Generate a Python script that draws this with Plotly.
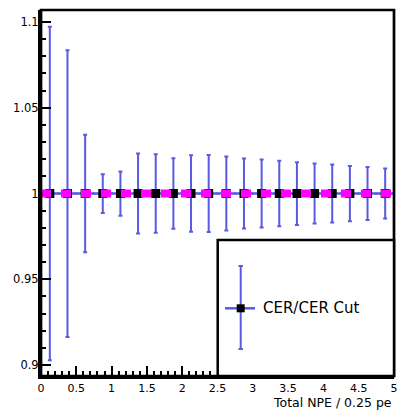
import plotly.graph_objects as go

# ---- data ----
bin_centers = [0.125, 0.375, 0.625, 0.875, 1.125, 1.375, 1.625, 1.875, 2.125, 2.375,
               2.625, 2.875, 3.125, 3.375, 3.625, 3.875, 4.125, 4.375, 4.625, 4.875]
ratio = [1.0] * 20
ratio_err = [0.0972, 0.0836, 0.0342, 0.0113, 0.0129, 0.0233, 0.0229, 0.0206, 0.0223, 0.0225,
             0.0216, 0.0204, 0.0198, 0.0191, 0.0183, 0.0175, 0.0169, 0.0161, 0.0155, 0.0146]
bin_half_width = [0.125] * 20
y_tick_vals = [0.9, 0.95, 1.0, 1.05, 1.1]
y_tick_text = ["0.9", "0.95", "1", "1.05", "1.1"]
x_tick_vals = [0, 0.5, 1, 1.5, 2, 2.5, 3, 3.5, 4, 4.5, 5]
x_tick_text = ["0", "0.5", "1", "1.5", "2", "2.5", "3", "3.5", "4", "4.5", "5"]
legend_label = "CER/CER Cut"
x_title = "Total NPE / 0.25 pe"
ref_level = 1.0

W, H = 397, 411
ML, MR, MT, MB = 41, 3, 10, 35
PW, PH = W - ML - MR, H - MT - MB
BLUE = "#5a5ae0"
FONT = "DejaVu Sans, Liberation Sans, Arial, sans-serif"


def px_x(p):
    return (p - ML) / PW


def px_y(p):
    return (H - MB - p) / PH


fig = go.Figure()
fig.add_trace(go.Scatter(
    x=bin_centers, y=ratio, mode="markers",
    marker=dict(symbol="square", size=9, color="black"),
    error_y=dict(type="data", array=ratio_err, visible=True, color=BLUE, thickness=2, width=2),
    error_x=dict(type="data", array=bin_half_width, visible=True, color=BLUE, thickness=2.5, width=1),
    showlegend=False,
))

shapes = []
# magenta dashed reference line
shapes.append(dict(type="line", xref="x", yref="y", x0=0, x1=5, y0=ref_level, y1=ref_level,
                   line=dict(color="#ff00ff", width=8, dash="10px,10px"), layer="above"))
# frame
shapes.append(dict(type="rect", xref="paper", yref="paper", x0=0, x1=1, y0=0, y1=1,
                   line=dict(color="black", width=2.7), layer="above"))
# legend box
shapes.append(dict(type="rect", xref="paper", yref="paper", x0=px_x(217.7), x1=1,
                   y0=0, y1=px_y(240), line=dict(color="black", width=2.5),
                   fillcolor="white", layer="above"))
# legend glyph
gx, gy = 240.7, 308.3
shapes.append(dict(type="line", xref="paper", yref="paper", x0=px_x(gx), x1=px_x(gx),
                   y0=px_y(266), y1=px_y(349), line=dict(color=BLUE, width=2), layer="above"))
for cy in (266, 349):
    shapes.append(dict(type="line", xref="paper", yref="paper", x0=px_x(gx - 2.2), x1=px_x(gx + 2.2),
                       y0=px_y(cy), y1=px_y(cy), line=dict(color=BLUE, width=2), layer="above"))
shapes.append(dict(type="line", xref="paper", yref="paper", x0=px_x(225), x1=px_x(255),
                   y0=px_y(gy), y1=px_y(gy), line=dict(color=BLUE, width=2.5), layer="above"))
shapes.append(dict(type="rect", xref="paper", yref="paper", x0=px_x(gx - 4), x1=px_x(gx + 4),
                   y0=px_y(gy - 4), y1=px_y(gy + 4), line=dict(width=0), fillcolor="black",
                   layer="above"))

annotations = [
    dict(text=legend_label, xref="paper", yref="paper", x=px_x(261), y=px_y(gy),
         xanchor="left", yanchor="middle", showarrow=False,
         font=dict(family=FONT, size=15, color="black")),
    dict(text=x_title, xref="paper", yref="paper", x=px_x(394), y=px_y(402.5),
         xanchor="right", yanchor="middle", showarrow=False,
         font=dict(family=FONT, size=12.5, color="black")),
]

fig.update_layout(
    width=W, height=H,
    margin=dict(l=ML, r=MR, t=MT, b=MB, pad=0, autoexpand=False),
    paper_bgcolor="white", plot_bgcolor="white",
    shapes=shapes, annotations=annotations,
    showlegend=False,
    xaxis=dict(range=[0, 5], tickmode="array", tickvals=x_tick_vals, ticktext=x_tick_text,
               ticks="inside", ticklen=10, tickwidth=2, tickcolor="black",
               ticklabeloverflow="allow", automargin=False,
               minor=dict(tickmode="linear", tick0=0, dtick=0.1, ticks="inside", ticklen=5,
                          tickwidth=2, tickcolor="black"),
               showgrid=False, zeroline=False, showline=True, linecolor="black", linewidth=3,
               tickfont=dict(family=FONT, size=11, color="black")),
    yaxis=dict(range=[0.8936, 1.107], tickmode="array", tickvals=y_tick_vals, ticktext=y_tick_text,
               ticks="inside", ticklen=10, tickwidth=2, tickcolor="black",
               ticklabelstandoff=-3, automargin=False,
               minor=dict(tickmode="linear", tick0=0.9, dtick=0.01, ticks="inside", ticklen=5,
                          tickwidth=2, tickcolor="black"),
               showgrid=False, zeroline=False, showline=True, linecolor="black", linewidth=3,
               tickfont=dict(family=FONT, size=11.5, color="black")),
)

fig.write_html("out.html")
